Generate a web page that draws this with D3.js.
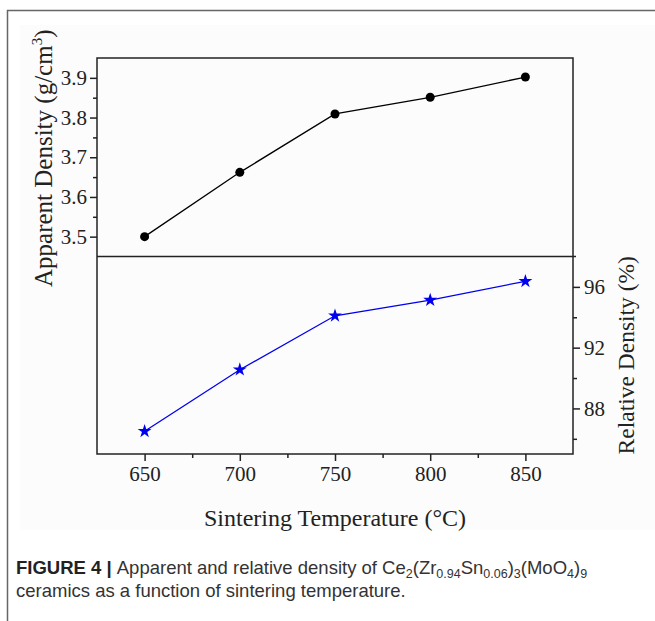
<!DOCTYPE html>
<html>
<head>
<meta charset="utf-8">
<style>
body { margin: 0; background: #fff; }
text { font-family: "Liberation Serif", "Times New Roman", serif; }
.axis path, .axis line { stroke: #222; stroke-width: 1.5px; }
.axis text { font-family: "Liberation Serif", serif; font-size: 21px; fill: #222; }
.caption { font-family: "Liberation Sans", Arial, sans-serif; font-size: 18.5px; fill: #333; }
</style>
</head>
<body>
<script src="https://cdn.jsdelivr.net/npm/d3@7"></script>
<script>

var temps = [650, 700, 750, 800, 850];
var apparent = [3.50, 3.662, 3.809, 3.851, 3.902];
var relative = [86.5, 90.55, 94.1, 95.13, 96.37];

var tempTicks = [650, 700, 750, 800, 850];
var apparentTicks = [3.5, 3.6, 3.7, 3.8, 3.9];
var relativeTicks = [88, 92, 96];

var width = 655, height = 621;

var left = 97, right = 573,
    top1 = 58, mid = 256.5, bottom = 454;

var svg = d3.select("body").append("svg")
    .attr("width", width)
    .attr("height", height);

// outer frame
svg.append("rect")
    .attr("x", 20).attr("y", 25)
    .attr("width", 635).attr("height", 505)
    .style("fill", "#fcfcfc");
svg.append("path")
    .attr("d", "M7.5," + height + "V10.5H" + width)
    .style("fill", "none")
    .style("stroke", "#666")
    .style("stroke-width", 1.5);

var x = d3.scaleLinear().domain([625, 875]).range([left, right]);
var yTop = d3.scaleLinear().domain([3.45, 3.95]).range([mid, top1]);
var yBot = d3.scaleLinear().domain([85, 98]).range([bottom, mid]);

// minor ticks
svg.append("g")
    .attr("class", "axis")
    .attr("transform", "translate(0," + bottom + ")")
    .call(d3.axisBottom(x).tickValues([675, 725, 775, 825]).tickSize(4).tickFormat(""))
    .select(".domain").remove();
svg.append("g")
    .attr("class", "axis")
    .attr("transform", "translate(" + left + ",0)")
    .call(d3.axisLeft(yTop).tickValues([3.55, 3.65, 3.75, 3.85]).tickSize(4).tickFormat(""))
    .select(".domain").remove();
svg.append("g")
    .attr("class", "axis")
    .attr("transform", "translate(" + right + ",0)")
    .call(d3.axisRight(yBot).tickValues([86, 90, 94]).tickSize(4).tickFormat(""))
    .select(".domain").remove();

// major axes
svg.append("g")
    .attr("class", "axis")
    .attr("transform", "translate(0," + bottom + ")")
    .call(d3.axisBottom(x).tickValues(tempTicks).tickSize(7).tickSizeOuter(0).tickPadding(5))
    .select(".domain").remove();

svg.append("g")
    .attr("class", "axis")
    .attr("transform", "translate(" + left + ",0)")
    .call(d3.axisLeft(yTop).tickValues(apparentTicks).tickSize(7).tickPadding(3).tickFormat(d3.format(".1f")))
    .select(".domain").remove();

svg.append("g")
    .attr("class", "axis")
    .attr("transform", "translate(" + right + ",0)")
    .call(d3.axisRight(yBot).tickValues(relativeTicks).tickSize(7).tickPadding(4))
    .select(".domain").remove();

// panel frames
svg.append("path")
    .attr("d", "M" + left + "," + top1 + "H" + right + "V" + bottom + "H" + left + "Z")
    .style("fill", "none").style("stroke", "#222").style("stroke-width", 1.5);
svg.append("line")
    .attr("x1", left).attr("x2", right + 3)
    .attr("y1", mid).attr("y2", mid)
    .style("stroke", "#222").style("stroke-width", 1.5);

// apparent density
var topData = temps.map(function(t, i) { return {t: t, v: apparent[i]}; });
svg.append("path")
    .datum(topData)
    .attr("d", d3.line().x(function(d) { return x(d.t); }).y(function(d) { return yTop(d.v); }))
    .style("fill", "none").style("stroke", "#000").style("stroke-width", 1.3);
svg.selectAll(".dot")
    .data(topData)
    .enter().append("circle")
    .attr("class", "dot")
    .attr("cx", function(d) { return x(d.t); })
    .attr("cy", function(d) { return yTop(d.v); })
    .attr("r", 4.5)
    .style("fill", "#000");

// relative density
var botData = temps.map(function(t, i) { return {t: t, v: relative[i]}; });
svg.append("path")
    .datum(botData)
    .attr("d", d3.line().x(function(d) { return x(d.t); }).y(function(d) { return yBot(d.v); }))
    .style("fill", "none").style("stroke", "#0000ee").style("stroke-width", 1.3);
svg.selectAll(".star")
    .data(botData)
    .enter().append("path")
    .attr("class", "star")
    .attr("d", d3.symbol().type(d3.symbolStar).size(60))
    .attr("transform", function(d) { return "translate(" + x(d.t) + "," + yBot(d.v) + ")"; })
    .style("fill", "#0000ee");

// axis titles
svg.append("text")
    .attr("transform", "translate(52," + ((top1 + mid) / 2 + 1) + ") rotate(-90)")
    .attr("text-anchor", "middle")
    .style("font-size", "25px")
    .style("fill", "#222")
    .html('Apparent Density (g/cm<tspan dy="-10" font-size="15px">3</tspan><tspan dy="10">)</tspan>');

svg.append("text")
    .attr("transform", "translate(634," + ((mid + bottom) / 2) + ") rotate(-90)")
    .attr("text-anchor", "middle")
    .style("font-size", "23.5px")
    .style("fill", "#222")
    .text("Relative Density (%)");

svg.append("text")
    .attr("x", (left + right) / 2)
    .attr("y", 526)
    .attr("text-anchor", "middle")
    .style("font-size", "24px")
    .style("fill", "#222")
    .text("Sintering Temperature (\u00b0C)");

// caption
var cap = svg.append("text")
    .attr("class", "caption")
    .attr("x", 16)
    .attr("y", 574);
cap.append("tspan").style("font-weight", "bold").style("fill", "#222").text("FIGURE 4 | ");
cap.append("tspan").text("Apparent and relative density of Ce");
cap.append("tspan").attr("dy", 4).style("font-size", "12.5px").text("2");
cap.append("tspan").attr("dy", -4).text("(Zr");
cap.append("tspan").attr("dy", 4).style("font-size", "12.5px").text("0.94");
cap.append("tspan").attr("dy", -4).text("Sn");
cap.append("tspan").attr("dy", 4).style("font-size", "12.5px").text("0.06");
cap.append("tspan").attr("dy", -4).text(")");
cap.append("tspan").attr("dy", 4).style("font-size", "12.5px").text("3");
cap.append("tspan").attr("dy", -4).text("(MoO");
cap.append("tspan").attr("dy", 4).style("font-size", "12.5px").text("4");
cap.append("tspan").attr("dy", -4).text(")");
cap.append("tspan").attr("dy", 4).style("font-size", "12.5px").text("9");

svg.append("text")
    .attr("class", "caption")
    .attr("x", 16)
    .attr("y", 597)
    .text("ceramics as a function of sintering temperature.");

</script>
</body>
</html>
